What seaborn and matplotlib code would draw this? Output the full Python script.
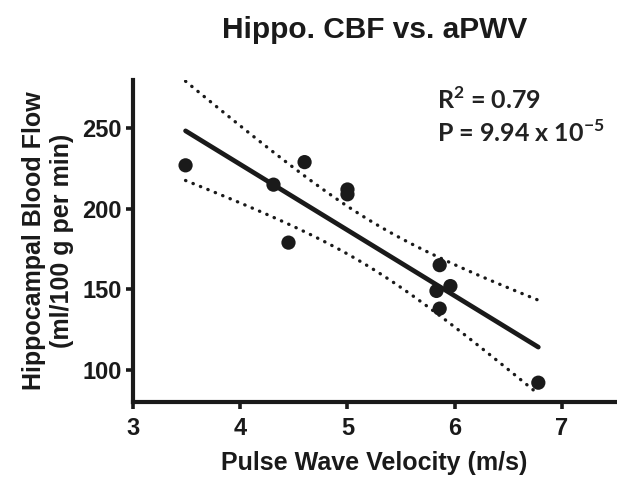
import numpy as np
import pandas as pd
import matplotlib
matplotlib.use("Agg")
import matplotlib.pyplot as plt
import seaborn as sns

# data
pwv = [3.49, 4.31, 4.60, 4.45, 5.00, 5.00, 5.86, 5.83, 5.96, 5.86, 6.78]
cbf = [227, 215, 229, 179, 212, 209, 165, 149, 152, 138, 92]

x_ticks = [3, 4, 5, 6, 7]
y_ticks = [100, 150, 200, 250]

df = pd.DataFrame({"pwv": pwv, "cbf": cbf})

sns.set_style("ticks")
plt.rcParams["font.family"] = ["Liberation Sans", "DejaVu Sans"]
plt.rcParams["mathtext.fontset"] = "custom"
plt.rcParams["mathtext.bf"] = "Lato:bold"
plt.rcParams["mathtext.rm"] = "Lato:bold"

fig = plt.figure(figsize=(6.17, 4.84), dpi=100)
ax = fig.add_axes([0.2156, 0.1694, 0.782, 0.6653])

# linear fit + analytic 95% confidence band of the mean
x = np.array(pwv, dtype=float)
y = np.array(cbf, dtype=float)
n = len(x)
slope, intercept = np.polyfit(x, y, 1)
resid = y - (slope * x + intercept)
s = np.sqrt(np.sum(resid ** 2) / (n - 2))
t_crit = 2.262  # t(0.975, df=9)
xs = np.linspace(x.min(), x.max(), 100)
ys = slope * xs + intercept
se = s * np.sqrt(1 / n + (xs - x.mean()) ** 2 / np.sum((x - x.mean()) ** 2))
fit = pd.DataFrame({"x": xs, "y": ys, "lo": ys - t_crit * se, "hi": ys + t_crit * se})

sns.lineplot(data=fit, x="x", y="y", color="#1a1a1a", linewidth=3.4, ax=ax)
for col in ["lo", "hi"]:
    sns.lineplot(data=fit, x="x", y=col, color="#1a1a1a", linewidth=2.4,
                 linestyle=(0, (0.1, 2.3)), dash_capstyle="round", ax=ax)
sns.scatterplot(data=df, x="pwv", y="cbf", color="#1a1a1a", s=105,
                edgecolor="none", ax=ax, zorder=3)

ax.set_xlim(3, 7.5)
ax.set_ylim(80, 280)
ax.set_xticks(x_ticks)
ax.set_yticks(y_ticks)
ax.tick_params(width=2.6, length=5, labelsize=17, color="#1a1a1a", pad=3)
ax.tick_params(axis="x", pad=6)
for lbl in ax.get_xticklabels() + ax.get_yticklabels():
    lbl.set_fontweight("bold")
    lbl.set_color("#1a1a1a")
for side in ["left", "bottom"]:
    ax.spines[side].set_linewidth(3.0)
    ax.spines[side].set_color("#1a1a1a")
sns.despine(ax=ax)

ax.set_xlabel("Pulse Wave Velocity (m/s)", fontsize=18, fontweight="bold",
              labelpad=8, color="#1a1a1a")
ax.set_ylabel("Hippocampal Blood Flow\n(ml/100 g per min)", fontsize=18,
              fontweight="bold", labelpad=6, linespacing=1.2, color="#1a1a1a")
ax.set_title("Hippo. CBF vs. aPWV", fontsize=21.5, fontweight="bold", pad=30,
             color="#1a1a1a")

ax.text(0.629, 0.938, "R$^{\\mathbf{2}}$ = 0.79", transform=ax.transAxes,
        fontsize=18, fontweight="bold", family=["Lato", "DejaVu Sans"],
        color="#222222", va="center")
ax.text(0.629, 0.835, "P = 9.94 x 10$^{\\mathbf{-5}}$", transform=ax.transAxes,
        fontsize=18, fontweight="bold", family=["Lato", "DejaVu Sans"],
        color="#222222", va="center")

fig.savefig("out.png", dpi=100)
